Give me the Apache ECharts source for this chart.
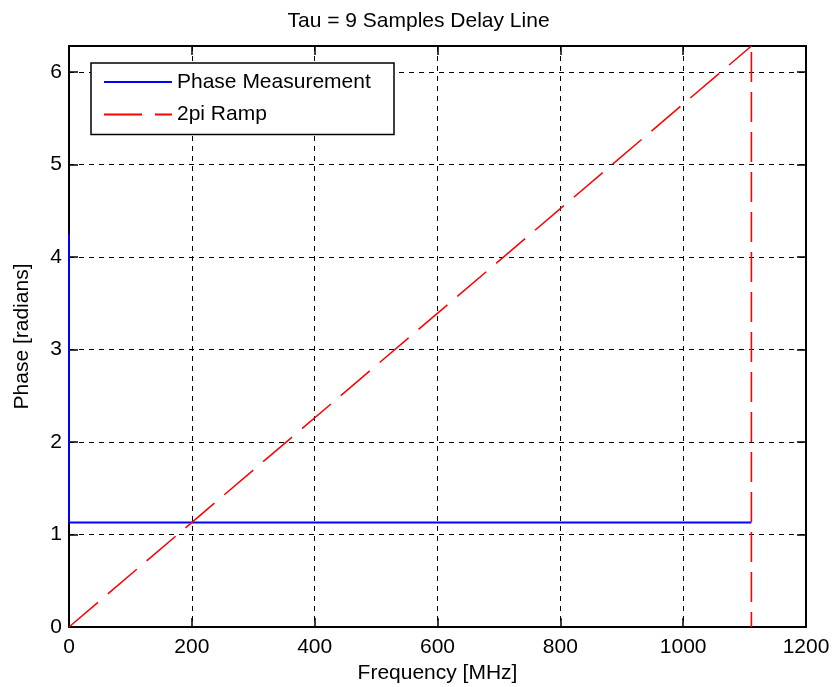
<!DOCTYPE html>
<html>
<head>
<meta charset="utf-8">
<script src="https://cdn.jsdelivr.net/npm/echarts@6/dist/echarts.min.js"></script>
<style>
  html, body { margin: 0; padding: 0; background: #ffffff; }
  #chart { width: 832px; height: 687px; }
</style>
</head>
<body>
<div id="chart"></div>
<script>
// Measured phase of the delay line (radians) against frequency (MHz)
const phaseFreq = [0, 0, 1111.1];
const phaseValues = [4.25, 1.13, 1.13];

// Reference 2*pi ramp over one period, then its drop back to zero
const rampFreq = [0, 1111.1];
const rampValues = [0, 6.2832];
const dropFreq = [1111.1, 1111.1];
const dropValues = [6.2832, 0];

// Axis ticks
const xTickLabels = ['0', '200', '400', '600', '800', '1000', '1200'];
const yTickLabels = ['0', '1', '2', '3', '4', '5', '6'];

const FONT = "'Liberation Sans', Arial, sans-serif";
const X_MIN = 0, X_MAX = 1200, X_STEP = 200;
const Y_MIN = 0, Y_MAX = 2 * Math.PI, Y_STEP = 1;

const toPairs = (xs, ys) => xs.map((x, i) => [x, ys[i]]);

const tickText = (labels, step) => (v) => {
  const idx = Math.round(v / step);
  return Math.abs(v - idx * step) < 1e-6 && labels[idx] !== undefined ? labels[idx] : '';
};

// Fresh style objects for every axis (the box is drawn by four axes)
const boxAxisLine = () => ({ show: true, onZero: false, lineStyle: { color: '#000', width: 2 } });
const innerTicks = () => ({ show: true, inside: true, length: 9, lineStyle: { color: '#000', width: 1.5 } });
const gridLines = () => ({ show: true, lineStyle: { color: '#000', width: 1, type: [5, 5] } });

const hiddenMarker = { opacity: 0, borderWidth: 0 };

const chart = echarts.init(document.getElementById('chart'), null, { renderer: 'canvas' });

chart.setOption({
  animation: false,
  backgroundColor: '#ffffff',
  textStyle: { fontFamily: FONT },
  title: {
    text: 'Tau = 9 Samples Delay Line',
    left: 287.5,
    top: 11,
    padding: 0,
    textStyle: {
      fontFamily: FONT, fontSize: 21, fontWeight: 'normal', color: '#000',
      width: 300, align: 'center'
    }
  },
  legend: {
    data: [
      { name: 'Phase Measurement', itemStyle: hiddenMarker },
      { name: '2pi Ramp', itemStyle: hiddenMarker }
    ],
    orient: 'vertical',
    left: 91,
    top: 63,
    padding: [7, 12, 8, 12],
    itemWidth: 68,
    itemHeight: 14,
    itemGap: 8.6,
    backgroundColor: '#ffffff',
    borderColor: '#000',
    borderWidth: 1.5,
    borderRadius: 0,
    itemStyle: hiddenMarker,
    textStyle: { fontFamily: FONT, fontSize: 21, color: '#000', width: 205, lineHeight: 24 }
  },
  grid: {
    left: 69,
    right: 26,
    top: 46,
    bottom: 60,
    containLabel: false,
    outerBoundsMode: 'none'
  },
  xAxis: [
    {
      type: 'value',
      position: 'bottom',
      min: X_MIN, max: X_MAX, interval: X_STEP,
      name: 'Frequency [MHz]',
      nameLocation: 'middle',
      nameGap: 30,
      nameTextStyle: { fontFamily: FONT, fontSize: 21, color: '#000' },
      axisLine: boxAxisLine(),
      axisTick: innerTicks(),
      splitLine: gridLines(),
      axisLabel: {
        margin: 10, fontFamily: FONT, fontSize: 21, color: '#000',
        formatter: tickText(xTickLabels, X_STEP)
      }
    },
    {
      type: 'value',
      position: 'top',
      min: X_MIN, max: X_MAX, interval: X_STEP,
      axisLine: boxAxisLine(),
      axisTick: innerTicks(),
      splitLine: { show: false },
      axisLabel: { show: false }
    }
  ],
  yAxis: [
    {
      type: 'value',
      position: 'left',
      min: Y_MIN, max: Y_MAX, interval: Y_STEP,
      name: 'Phase [radians]',
      nameLocation: 'middle',
      nameGap: 36,
      nameTextStyle: { fontFamily: FONT, fontSize: 21, color: '#000' },
      axisLine: boxAxisLine(),
      axisTick: innerTicks(),
      splitLine: gridLines(),
      axisLabel: {
        margin: 7, fontFamily: FONT, fontSize: 21, color: '#000',
        showMaxLabel: false,
        formatter: tickText(yTickLabels, Y_STEP)
      }
    },
    {
      type: 'value',
      position: 'right',
      min: Y_MIN, max: Y_MAX, interval: Y_STEP,
      axisLine: boxAxisLine(),
      axisTick: innerTicks(),
      splitLine: { show: false },
      axisLabel: { show: false }
    }
  ],
  series: [
    {
      name: 'Phase Measurement',
      type: 'line',
      xAxisIndex: 0, yAxisIndex: 0,
      data: toPairs(phaseFreq, phaseValues),
      symbol: 'none',
      showSymbol: false,
      clip: false,
      color: '#0000ff',
      lineStyle: { color: '#0000ff', width: 2 },
      z: 5
    },
    {
      name: '2pi Ramp',
      type: 'line',
      xAxisIndex: 0, yAxisIndex: 0,
      data: toPairs(rampFreq, rampValues),
      symbol: 'none',
      showSymbol: false,
      color: '#ff0000',
      lineStyle: { color: '#ff0000', width: 1.5, type: [38, 13] },
      z: 6
    },
    {
      name: '2pi Ramp',
      type: 'line',
      xAxisIndex: 0, yAxisIndex: 0,
      data: toPairs(dropFreq, dropValues),
      symbol: 'none',
      showSymbol: false,
      color: '#ff0000',
      lineStyle: { color: '#ff0000', width: 1.6, type: [30, 10], dashOffset: -6 },
      z: 6
    }
  ]
});
</script>
</body>
</html>
